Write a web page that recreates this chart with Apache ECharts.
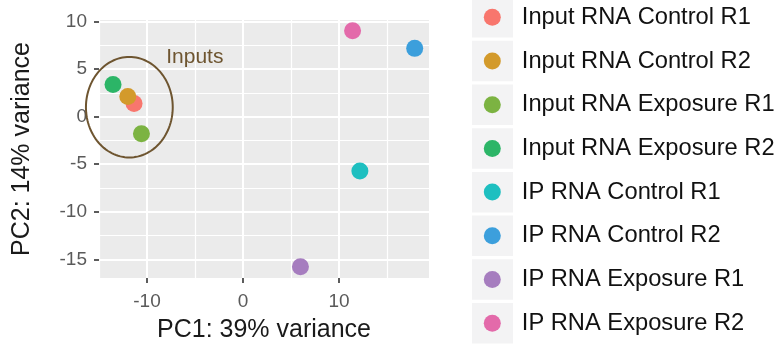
<!DOCTYPE html>
<html>
<head>
<meta charset="utf-8">
<script src="https://cdn.jsdelivr.net/npm/echarts@6/dist/echarts.min.js"></script>
<style>html,body{margin:0;padding:0;background:#fff}#c{width:780px;height:348px}</style>
</head>
<body>
<div id="c"></div>
<script>
const sampleNames = ['Input RNA Control R1','Input RNA Control R2','Input RNA Exposure R1','Input RNA Exposure R2','IP RNA Control R1','IP RNA Control R2','IP RNA Exposure R1','IP RNA Exposure R2'];
const pc1 = [-11.35, -12.0, -10.58, -13.54, 12.17, 17.88, 5.98, 11.41];
const pc2 = [1.39, 2.12, -1.80, 3.37, -5.72, 7.17, -15.76, 9.01];
const sampleColors = ['#F8766D','#D39A2B','#7CB342','#2CB567','#1EBFC0','#3C9FDC','#A67DBF','#E36AAA'];
const xMajorTicks = [-10, 0, 10];
const xMinorTicks = [-15, -5, 5, 15];
const yMajorTicks = [-15, -10, -5, 0, 5, 10];
const yMinorTicks = [-12.5, -7.5, -2.5, 2.5, 7.5];
const xRange = [-15, 19.37];
const yRange = [-16.95, 10.15];
const xTitle = 'PC1: 39% variance';
const yTitle = 'PC2: 14% variance';
const annoEllipse = [-11.84, 0.99, 4.52, 5.28];
const annoLabel = {text: 'Inputs', x: -8.0, y: 6.2};

const FONT = "'Liberation Sans', Arial, Helvetica, sans-serif";
const chart = echarts.init(document.getElementById('c'), null, {renderer: 'canvas'});

const tickLabel = {color: '#5a5a5a', fontSize: 19, fontFamily: FONT};
const grid = {left: 99, right: 351, top: 20, bottom: 67, show: true, backgroundColor: '#EBEBEB', borderWidth: 0};

const series = sampleNames.map((n, i) => ({
  name: n,
  type: 'scatter',
  data: [[pc1[i], pc2[i]]],
  symbolSize: 17,
  itemStyle: {color: sampleColors[i], opacity: 1},
  emphasis: {disabled: true},
  z: 5
}));

series.push({
  type: 'custom',
  name: 'annotation',
  xAxisIndex: 0, yAxisIndex: 0,
  data: [annoEllipse],
  silent: true,
  z: 6,
  renderItem: function (params, api) {
    const c = api.coord([api.value(0), api.value(1)]);
    const s = api.size([api.value(2), api.value(3)]);
    const pts = [];
    for (let k = 0; k < 120; k++) {
      const t = k / 120 * Math.PI * 2;
      pts.push([c[0] + s[0] * Math.cos(t), c[1] + s[1] * Math.sin(t)]);
    }
    const lp = api.coord([annoLabel.x, annoLabel.y]);
    return {
      type: 'group',
      children: [
        {type: 'polygon', shape: {points: pts}, style: {fill: 'none', stroke: '#6E5530', lineWidth: 2}},
        {type: 'text', x: lp[0], y: lp[1], style: {text: annoLabel.text, fill: '#6E5530', font: '21px ' + FONT, textAlign: 'left', textVerticalAlign: 'middle'}}
      ]
    };
  }
});

const option = {
  animation: false,
  textStyle: {fontFamily: FONT},
  grid: grid,
  legend: [
    {
      // grey key boxes
      orient: 'vertical',
      left: 472, top: -2.9, height: 400, padding: 0,
      itemWidth: 41, itemHeight: 40.5, itemGap: 3.2,
      icon: 'rect',
      selectedMode: false,
      data: sampleNames,
      itemStyle: {color: '#F3F3F4', borderWidth: 0},
      formatter: function () { return ''; },
      textStyle: {fontSize: 1, lineHeight: 1}
    },
    {
      orient: 'vertical',
      left: 483.8, top: -2.7, height: 400, padding: 0,
      itemWidth: 17, itemHeight: 17, itemGap: 3.7,
      icon: 'circle',
      selectedMode: false,
      data: sampleNames,
      textStyle: {color: '#111', fontSize: 23.7, lineHeight: 40, fontFamily: FONT, padding: [0, 0, 0, 16]}
    }
  ],
  xAxis: [
    {
      type: 'value', min: xRange[0], max: xRange[1],
      name: xTitle, nameLocation: 'middle', nameGap: 40,
      nameTextStyle: {color: '#1a1a1a', fontSize: 25, fontFamily: FONT},
      axisLine: {show: false, onZero: false},
      axisTick: {show: true, length: 5, customValues: xMajorTicks, lineStyle: {color: '#333', width: 1.6}},
      axisLabel: {customValues: xMajorTicks, margin: 14, ...tickLabel},
      splitLine: {show: true, lineStyle: {color: '#fff', width: 2}}
    },
    {
      type: 'value', min: xRange[0], max: xRange[1], gridIndex: 0,
      axisLine: {show: false, onZero: false},
      axisTick: {show: false, customValues: xMinorTicks},
      axisLabel: {show: false, customValues: xMinorTicks},
      splitLine: {show: true, lineStyle: {color: '#fff', width: 1.2}}
    }
  ],
  yAxis: [
    {
      type: 'value', min: yRange[0], max: yRange[1],
      name: yTitle, nameLocation: 'middle', nameGap: 64, nameRotate: 90,
      nameTextStyle: {color: '#1a1a1a', fontSize: 25, fontFamily: FONT},
      axisLine: {show: false, onZero: false},
      axisTick: {show: true, length: 5, customValues: yMajorTicks, lineStyle: {color: '#333', width: 1.6}},
      axisLabel: {customValues: yMajorTicks, margin: 12, ...tickLabel},
      splitLine: {show: true, lineStyle: {color: '#fff', width: 2}}
    },
    {
      type: 'value', min: yRange[0], max: yRange[1], gridIndex: 0,
      axisLine: {show: false, onZero: false},
      axisTick: {show: false, customValues: yMinorTicks},
      axisLabel: {show: false, customValues: yMinorTicks},
      splitLine: {show: true, lineStyle: {color: '#fff', width: 1.2}}
    }
  ],
  series: series
};
chart.setOption(option);
</script>
</body>
</html>
